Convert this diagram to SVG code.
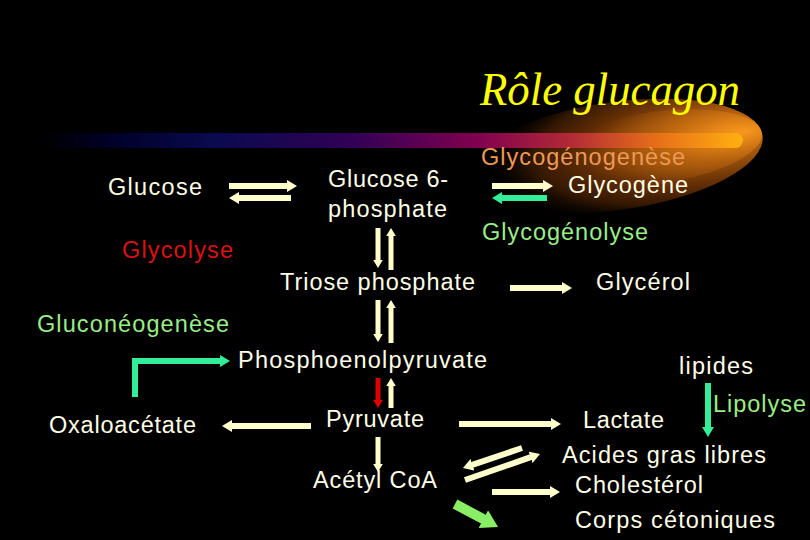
<svg xmlns="http://www.w3.org/2000/svg" width="810" height="540" viewBox="0 0 810 540">
<style>
.t{font-family:"Liberation Sans",Arial,sans-serif;font-size:23.5px;fill:#FFFFE6}
.o{fill:#EE9955}
.g{fill:#99EE88}
.r{fill:#DD1111}
.title{font-family:"Liberation Serif","Times New Roman",serif;font-style:italic;font-size:46px;fill:#FFFF00}
.c{stroke:#FFFFCC;stroke-width:6;fill:none}
.cv{stroke:#FFFFCC;stroke-width:5;fill:none}
.gt{stroke:#33EE99;stroke-width:6;fill:none}
.rd{stroke:#DD0000;stroke-width:5;fill:none}
.lg{stroke:#88EE66;stroke-width:10;fill:none}
</style>
<defs>
<marker id="mc" viewBox="0 0 10 12" markerWidth="1.667" markerHeight="2" refX="1" refY="6" orient="auto"><path d="M0,0L10,6L0,12Z" fill="#FFFFCC"/></marker>
<marker id="mg" viewBox="0 0 10 12" markerWidth="1.667" markerHeight="2" refX="1" refY="6" orient="auto"><path d="M0,0L10,6L0,12Z" fill="#33EE99"/></marker>
<marker id="mr" viewBox="0 0 10 12" markerWidth="1.667" markerHeight="2" refX="1" refY="6" orient="auto"><path d="M0,0L10,6L0,12Z" fill="#DD0000"/></marker>
<marker id="ml" viewBox="0 0 10 12" markerWidth="1.667" markerHeight="2" refX="1" refY="6" orient="auto"><path d="M0,0L10,6L0,12Z" fill="#88EE66"/></marker>
<linearGradient id="bar" x1="40" y1="0" x2="743" y2="0" gradientUnits="userSpaceOnUse">
<stop offset="0" stop-color="#000000"/>
<stop offset="0.1" stop-color="#000028"/>
<stop offset="0.25" stop-color="#0A0A50"/>
<stop offset="0.45" stop-color="#330055"/>
<stop offset="0.62" stop-color="#800050"/>
<stop offset="0.75" stop-color="#B02838"/>
<stop offset="0.88" stop-color="#E87018"/>
<stop offset="1" stop-color="#FFB010"/>
</linearGradient>
<radialGradient id="glow" cx="0.8" cy="0.45" r="0.75" fx="0.9" fy="0.42">
<stop offset="0" stop-color="#E07E16"/>
<stop offset="0.25" stop-color="#B05E0E"/>
<stop offset="0.55" stop-color="#6A3205"/>
<stop offset="0.8" stop-color="#331702"/>
<stop offset="1" stop-color="#000000" stop-opacity="0"/>
</radialGradient>
<radialGradient id="glow2" cx="0.85" cy="0.45" r="0.7" fx="0.92" fy="0.45">
<stop offset="0" stop-color="#FFA020" stop-opacity="0.8"/>
<stop offset="0.5" stop-color="#D87812" stop-opacity="0.4"/>
<stop offset="1" stop-color="#D87812" stop-opacity="0"/>
</radialGradient>
</defs>
<rect width="810" height="540" fill="#000000"/>
<g id="decor">
<ellipse cx="616" cy="156" rx="148" ry="54" fill="url(#glow)" transform="rotate(-8 616 156)"/>
<ellipse cx="655" cy="148" rx="108" ry="36" fill="url(#glow2)" transform="rotate(-8 655 148)"/>
<rect x="40" y="133" width="703" height="15" rx="7.5" fill="url(#bar)"/>
</g>
<g id="title"><text class="title" x="480" y="105" textLength="260" lengthAdjust="spacingAndGlyphs">Rôle glucagon</text></g>
<g id="connectors">
<line class="c" x1="229" y1="186" x2="288" y2="186" marker-end="url(#mc)"/>
<line class="c" x1="291" y1="198" x2="238" y2="198" marker-end="url(#mc)"/>
<line class="c" x1="492" y1="186" x2="544" y2="186" marker-end="url(#mc)"/>
<line class="gt" x1="547" y1="198" x2="501" y2="198" marker-end="url(#mg)"/>
<line class="c" x1="510" y1="288" x2="563" y2="288" marker-end="url(#mc)"/>
<line class="c" x1="311" y1="426" x2="231" y2="426" marker-end="url(#mc)"/>
<line class="c" x1="459" y1="424" x2="552" y2="424" marker-end="url(#mc)"/>
<line class="c" x1="492" y1="492" x2="551" y2="492" marker-end="url(#mc)"/>
<line class="cv" x1="378" y1="228" x2="378" y2="260.5" marker-end="url(#mc)"/>
<line class="cv" x1="391" y1="270" x2="391" y2="235.5" marker-end="url(#mc)"/>
<line class="cv" x1="378" y1="300" x2="378" y2="334.5" marker-end="url(#mc)"/>
<line class="cv" x1="391" y1="343" x2="391" y2="307.5" marker-end="url(#mc)"/>
<line class="rd" x1="378" y1="378" x2="378" y2="400.5" marker-end="url(#mr)"/>
<line class="cv" x1="391" y1="408" x2="391" y2="385.5" marker-end="url(#mc)"/>
<line class="cv" x1="378" y1="437" x2="378" y2="464.5" marker-end="url(#mc)"/>
<line class="gt" x1="708" y1="383" x2="708" y2="428" marker-end="url(#mg)"/>
<path class="gt" d="M135,397V361H221" marker-end="url(#mg)"/>
<line class="c" x1="522" y1="448" x2="471.5" y2="465.1" marker-end="url(#mc)"/>
<line class="c" x1="465" y1="480" x2="531.5" y2="456.9" marker-end="url(#mc)"/>
<line class="lg" x1="455" y1="504" x2="484.8" y2="519.9" marker-end="url(#ml)"/>
</g>
<g id="glucose"><text class="t" x="108" y="195" textLength="94">Glucose</text></g>
<g id="glucose6p"><text class="t" x="328" y="187" textLength="120">Glucose 6-</text><text class="t" x="328" y="217" textLength="119">phosphate</text></g>
<g id="glycogenogenese"><text class="t o" x="481" y="165" textLength="204">Glycogénogenèse</text></g>
<g id="glycogene"><text class="t" x="568" y="193" textLength="120">Glycogène</text></g>
<g id="glycogenolyse"><text class="t g" x="482" y="240" textLength="166">Glycogénolyse</text></g>
<g id="glycolyse"><text class="t r" x="122" y="258" textLength="111">Glycolyse</text></g>
<g id="triose"><text class="t" x="280" y="290" textLength="195">Triose phosphate</text></g>
<g id="glycerol"><text class="t" x="596" y="290" textLength="94">Glycérol</text></g>
<g id="gluconeogenese"><text class="t g" x="37" y="332" textLength="192">Gluconéogenèse</text></g>
<g id="pep"><text class="t" x="238" y="368" textLength="249">Phosphoenolpyruvate</text></g>
<g id="lipides"><text class="t" x="679" y="374" textLength="74">lipides</text></g>
<g id="lipolyse"><text class="t g" x="713" y="412" textLength="93">Lipolyse</text></g>
<g id="oxaloacetate"><text class="t" x="49" y="433" textLength="147">Oxaloacétate</text></g>
<g id="pyruvate"><text class="t" x="326" y="427" textLength="98">Pyruvate</text></g>
<g id="lactate"><text class="t" x="583" y="428" textLength="81">Lactate</text></g>
<g id="acides"><text class="t" x="562" y="463" textLength="204">Acides gras libres</text></g>
<g id="acetylcoa"><text class="t" x="313" y="488" textLength="124">Acétyl CoA</text></g>
<g id="cholesterol"><text class="t" x="575" y="493" textLength="128">Cholestérol</text></g>
<g id="corps"><text class="t" x="575" y="528" textLength="200">Corps cétoniques</text></g>
</svg>
